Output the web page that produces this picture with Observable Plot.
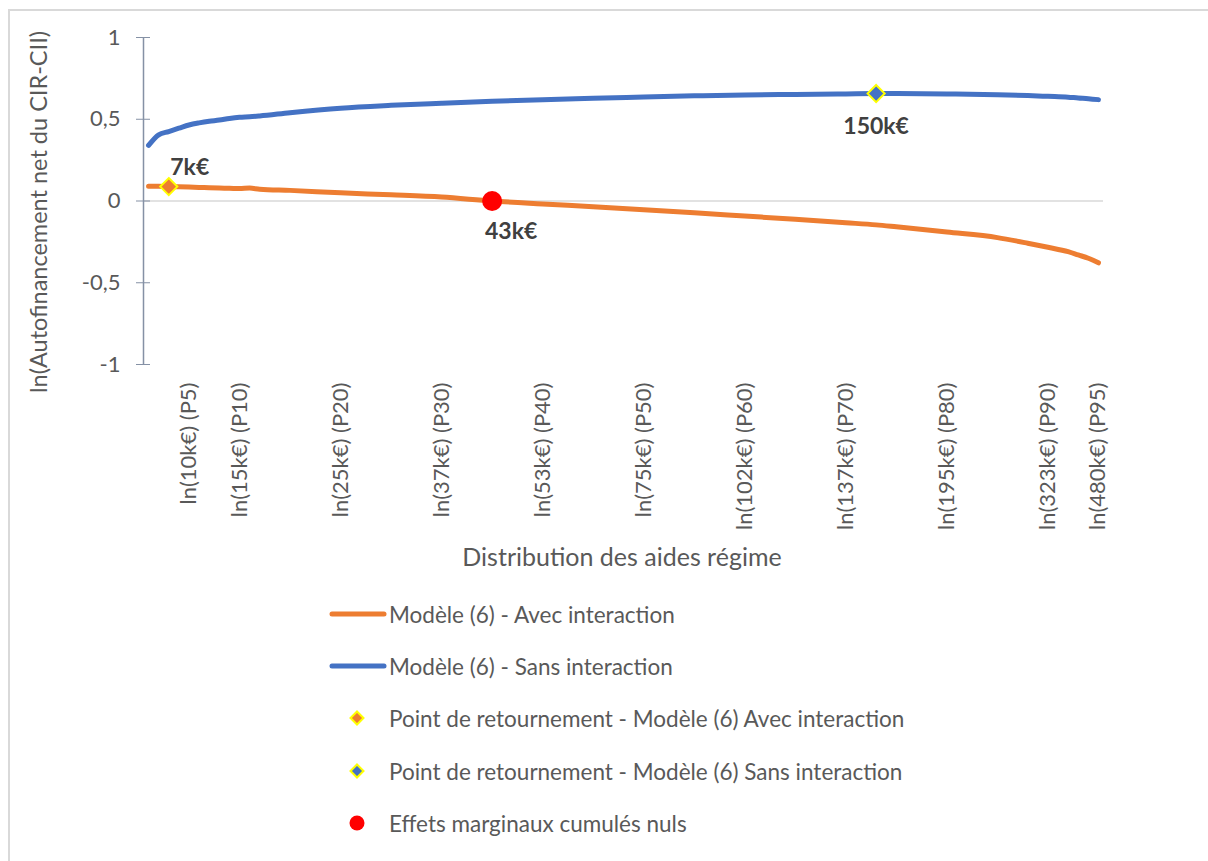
<!DOCTYPE html>
<html>
<head>
<meta charset="utf-8">
<script src="https://cdn.jsdelivr.net/npm/d3@7"></script>
<script src="https://cdn.jsdelivr.net/npm/@observablehq/plot@0.6"></script>
<style>
  body { margin: 0; background: #fff; font-family: Lato, sans-serif; }
  #wrap { position: relative; width: 1208px; height: 861px; overflow: hidden; background: #fff; }
  #frame { position: absolute; left: 8px; top: 9px; width: 1300px; height: 900px; border: 2px solid #d9d9d9; box-sizing: border-box; }
  #chart { position: absolute; left: 0; top: 0; }
  #legend { position: absolute; left: 0; top: 590px; }
</style>
</head>
<body>
<div id="wrap">
  <div id="frame"></div>
  <div id="chart"></div>
  <svg id="legend" width="1208" height="271"></svg>
</div>
<script>
// Percentiles of the aid distribution (x positions)
const percentiles = [1, 2, 3, 4, 5, 6, 7, 8, 9, 10, 11, 12, 15, 20, 25, 30, 35, 40, 45, 50,
  55, 60, 65, 70, 73, 75, 80, 85, 88, 90, 92, 93, 94, 95];

// Modèle (6) - Avec interaction
const avecInteraction = [0.090, 0.090, 0.088, 0.087, 0.085, 0.083, 0.081, 0.079, 0.078, 0.076,
  0.079, 0.072, 0.065, 0.050, 0.038, 0.024, 0.000, -0.018, -0.035, -0.053,
  -0.072, -0.092, -0.112, -0.133, -0.146, -0.158, -0.190, -0.224, -0.258, -0.283,
  -0.310, -0.330, -0.350, -0.378];

// Modèle (6) - Sans interaction
const sansInteraction = [0.340, 0.405, 0.425, 0.445, 0.465, 0.478, 0.488, 0.495, 0.505, 0.512,
  0.515, 0.520, 0.540, 0.568, 0.585, 0.598, 0.610, 0.620, 0.628, 0.636,
  0.643, 0.649, 0.652, 0.655, 0.657, 0.657, 0.655, 0.650, 0.645, 0.640,
  0.635, 0.630, 0.626, 0.620];

// Highlighted points
const retournementAvec = [{ p: 3, v: 0.088, label: "7k€" }];
const retournementSans = [{ p: 73, v: 0.657, label: "150k€" }];
const effetsNuls = [{ p: 35, v: 0.0, label: "43k€" }];

// Category labels on the horizontal axis
const tickPercentiles = [5, 10, 20, 30, 40, 50, 60, 70, 80, 90, 95];
const tickLabels = ["ln(10k€) (P5)", "ln(15k€) (P10)", "ln(25k€) (P20)", "ln(37k€) (P30)",
  "ln(53k€) (P40)", "ln(75k€) (P50)", "ln(102k€) (P60)", "ln(137k€) (P70)",
  "ln(195k€) (P80)", "ln(323k€) (P90)", "ln(480k€) (P95)"];
const yTicks = [-1, -0.5, 0, 0.5, 1];

const ORANGE = "#ED7D31", BLUE = "#4472C4", RED = "#FF0000", YELLOW = "#FFFF00";
const TEXT = "#595959", AXIS = "#8591a5";

const seriesAvec = percentiles.map((p, i) => ({ p, v: avecInteraction[i] }));
const seriesSans = percentiles.map((p, i) => ({ p, v: sansInteraction[i] }));

const chart = Plot.plot({
  width: 1208,
  height: 590,
  marginLeft: 143,
  marginRight: 105,
  marginTop: 37,
  marginBottom: 226,
  x: { domain: [0.5, 95.5], axis: null },
  y: { domain: [-1, 1] },
  style: { fontFamily: "Lato, sans-serif", fontSize: "22px", color: TEXT, background: "transparent" },
  marks: [
    Plot.ruleY([0], { stroke: "#d9d9d9", strokeWidth: 1.5 }),
    Plot.ruleX([0.5], { y1: -1, y2: 1, stroke: AXIS, strokeWidth: 1.5 }),
    Plot.axisY({
      ticks: yTicks,
      tickFormat: d => String(d).replace(".", ","),
      tickSize: 14, dx: 7, tickPadding: 16,
      stroke: AXIS, fill: TEXT, fontSize: 22, label: null
    }),
    Plot.text(tickPercentiles, {
      x: d => d, y: () => -1, text: (d, i) => tickLabels[i],
      rotate: -90, textAnchor: "end", dy: 18, fill: TEXT, fontSize: 22
    }),
    Plot.line(seriesSans, { x: "p", y: "v", stroke: BLUE, strokeWidth: 5, curve: "monotone-x", strokeLinecap: "round", strokeLinejoin: "round" }),
    Plot.line(seriesAvec, { x: "p", y: "v", stroke: ORANGE, strokeWidth: 5, curve: "monotone-x", strokeLinecap: "round", strokeLinejoin: "round" }),
    Plot.dot(retournementAvec, { x: "p", y: "v", symbol: "diamond2", r: 7.7, fill: ORANGE, stroke: YELLOW, strokeWidth: 2 }),
    Plot.dot(retournementSans, { x: "p", y: "v", symbol: "diamond2", r: 7.7, fill: BLUE, stroke: YELLOW, strokeWidth: 2 }),
    Plot.dot(effetsNuls, { x: "p", y: "v", r: 10, fill: RED }),
    Plot.text(retournementAvec, { x: "p", y: "v", text: "label", dx: 21, dy: -19, fontWeight: "bold", fill: "#404040", fontSize: 23 }),
    Plot.text(effetsNuls, { x: "p", y: "v", text: "label", dx: 19, dy: 31, fontWeight: "bold", fill: "#404040", fontSize: 23 }),
    Plot.text(retournementSans, { x: "p", y: "v", text: "label", dy: 33, fontWeight: "bold", fill: "#404040", fontSize: 23 })
  ]
});
document.getElementById("chart").appendChild(chart);

// Axis titles
const svg = d3.select(chart);
svg.append("text")
  .attr("x", 622).attr("y", 556)
  .attr("text-anchor", "middle").attr("dominant-baseline", "central")
  .attr("fill", TEXT).attr("font-size", 25).attr("font-family", "Lato, sans-serif")
  .text("Distribution des aides régime");
svg.append("text")
  .attr("transform", "translate(38,212) rotate(-90)")
  .attr("text-anchor", "middle").attr("dominant-baseline", "central")
  .attr("fill", TEXT).attr("font-size", 23.5).attr("font-family", "Lato, sans-serif")
  .text("ln(Autofinancement net du CIR-CII)");

// Legend
const legendItems = [
  { kind: "line", color: ORANGE, label: "Modèle (6) - Avec interaction" },
  { kind: "line", color: BLUE, label: "Modèle (6) - Sans interaction" },
  { kind: "diamond", color: ORANGE, label: "Point de retournement - Modèle (6) Avec interaction" },
  { kind: "diamond", color: BLUE, label: "Point de retournement - Modèle (6) Sans interaction" },
  { kind: "circle", color: RED, label: "Effets marginaux cumulés nuls" }
];
const rowY = [24, 76, 128, 181, 233];
const leg = d3.select("#legend");
legendItems.forEach((it, i) => {
  const g = leg.append("g").attr("transform", `translate(0,${rowY[i]})`);
  if (it.kind === "line") {
    g.append("line").attr("x1", 332).attr("x2", 384).attr("y1", 0).attr("y2", 0)
      .attr("stroke", it.color).attr("stroke-width", 5).attr("stroke-linecap", "round");
  } else if (it.kind === "diamond") {
    g.append("path").attr("d", "M357,-6.5L363.5,0L357,6.5L350.5,0Z")
      .attr("fill", it.color).attr("stroke", YELLOW).attr("stroke-width", 2);
  } else {
    g.append("circle").attr("cx", 357).attr("cy", 0).attr("r", 7.5).attr("fill", it.color);
  }
  g.append("text").attr("x", 389).attr("y", 0).attr("dominant-baseline", "central")
    .attr("fill", TEXT).attr("font-size", 22.5).attr("font-family", "Lato, sans-serif")
    .text(it.label);
});
</script>
</body>
</html>
